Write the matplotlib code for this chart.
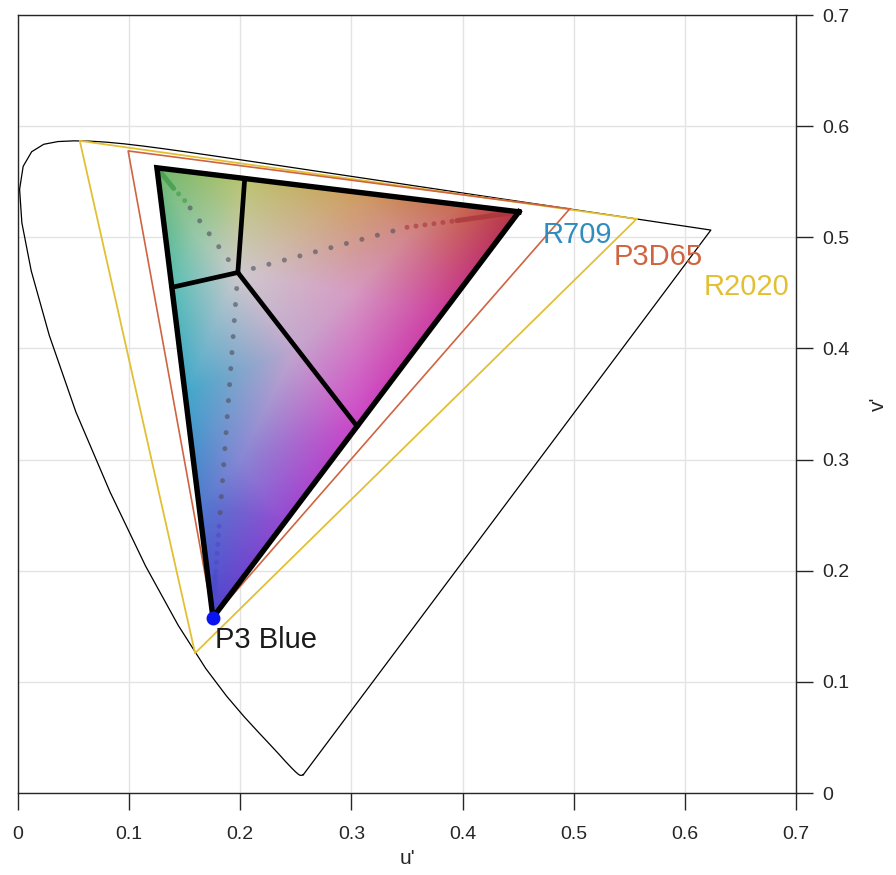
import numpy as np
import matplotlib
matplotlib.use('Agg')
import matplotlib.pyplot as plt
import matplotlib.tri as mtri
from matplotlib.patches import Polygon

plt.rcParams['font.family'] = ['Liberation Sans', 'DejaVu Sans']

# CIE 1931 2-degree spectral locus (x, y chromaticity)
wavelengths = [380, 385, 390, 395, 400, 405, 410, 415, 420, 425, 430, 435, 440, 445,
               450, 455, 460, 465, 470, 475, 480, 485, 490, 495, 500, 505, 510, 515,
               520, 525, 530, 535, 540, 545, 550, 555, 560, 565, 570, 575, 580, 585,
               590, 595, 600, 605, 610, 615, 620, 625, 630, 635, 640, 645, 650, 660,
               680, 700]
locus_x = [0.1741, 0.1740, 0.1738, 0.1736, 0.1733, 0.1730, 0.1726, 0.1721, 0.1714, 0.1703,
           0.1689, 0.1669, 0.1644, 0.1611, 0.1566, 0.1510, 0.1440, 0.1355, 0.1241, 0.1096,
           0.0913, 0.0687, 0.0454, 0.0235, 0.0082, 0.0039, 0.0139, 0.0389, 0.0743, 0.1142,
           0.1547, 0.1929, 0.2296, 0.2658, 0.3016, 0.3373, 0.3731, 0.4087, 0.4441, 0.4788,
           0.5125, 0.5448, 0.5752, 0.6029, 0.6270, 0.6482, 0.6658, 0.6801, 0.6915, 0.7006,
           0.7079, 0.7140, 0.7190, 0.7230, 0.7260, 0.7300, 0.7334, 0.7347]
locus_y = [0.0050, 0.0050, 0.0049, 0.0049, 0.0048, 0.0048, 0.0048, 0.0048, 0.0051, 0.0058,
           0.0069, 0.0086, 0.0109, 0.0138, 0.0177, 0.0227, 0.0297, 0.0399, 0.0578, 0.0868,
           0.1327, 0.2007, 0.2950, 0.4127, 0.5384, 0.6548, 0.7502, 0.8120, 0.8338, 0.8262,
           0.8059, 0.7816, 0.7543, 0.7243, 0.6923, 0.6589, 0.6245, 0.5896, 0.5547, 0.5202,
           0.4866, 0.4544, 0.4242, 0.3965, 0.3725, 0.3514, 0.3340, 0.3197, 0.3083, 0.2993,
           0.2920, 0.2859, 0.2809, 0.2770, 0.2740, 0.2700, 0.2666, 0.2653]

# Gamut primaries in u'v' (R, G, B)
r709_u = [0.4507, 0.1250, 0.1754]
r709_v = [0.5229, 0.5625, 0.1579]
p3_u = [0.4964, 0.0991, 0.1754]
p3_v = [0.5256, 0.5777, 0.1579]
r2020_u = [0.5566, 0.0556, 0.1593]
r2020_v = [0.5165, 0.5868, 0.1258]
white_u, white_v = 0.1978, 0.4683
# ends of the black split lines (top edge, left edge, right edge)
split_u = [0.204, 0.1386, 0.305]
split_v = [0.553, 0.455, 0.330]
p3_blue = (0.1754, 0.1579)
# where the dotted rays turn dense / solid near each primary (R, G, B)
dense_u = [0.350, 0.150, 0.1810]
dense_v = [0.5090, 0.5330, 0.2400]
solid_u = [0.395, 0.140, 0.1775]
solid_v = [0.5150, 0.5440, 0.1950]

tick_vals = [0, 0.1, 0.2, 0.3, 0.4, 0.5, 0.6, 0.7]
tick_labels = ['0', '0.1', '0.2', '0.3', '0.4', '0.5', '0.6', '0.7']

col_709 = '#2F8CBF'
col_p3 = '#CF6440'
col_2020 = '#E2C035'
ray_cols = ['#A8343A', '#3F9A48', '#4A4ACB']

# shading anchors for the colour fill of the R709 triangle (style only)
shade_anchors = [
    (0.1250, 0.5625, (112, 184, 108)),
    (0.4507, 0.5229, (182, 50, 68)),
    (0.1754, 0.1579, (80, 66, 205)),
    (0.1978, 0.4683, (206, 202, 205)),
    (0.2040, 0.5530, (188, 196, 112)),
    (0.3000, 0.5410, (206, 160, 96)),
    (0.4000, 0.5290, (200, 105, 80)),
    (0.1386, 0.4550, (88, 190, 182)),
    (0.1500, 0.3600, (62, 168, 202)),
    (0.1620, 0.2600, (78, 122, 206)),
    (0.3050, 0.3300, (205, 70, 200)),
    (0.3800, 0.4300, (205, 62, 160)),
    (0.2400, 0.2440, (150, 72, 210)),
    (0.3000, 0.4500, (214, 155, 195)),
    (0.2000, 0.3000, (135, 135, 212)),
    (0.3500, 0.5000, (210, 135, 140)),
    (0.2500, 0.4000, (196, 165, 206)),
    (0.1600, 0.5000, (150, 200, 170)),
]

fig = plt.figure(figsize=(8.96, 8.75), dpi=100)
ax = fig.add_axes([18/896, 82/875, 778/896, 778/875])

lx = np.array(locus_x); ly = np.array(locus_y)
den = -2*lx + 12*ly + 3
loc_u = 4*lx/den
loc_v = 9*ly/den
ax.plot(np.append(loc_u, loc_u[0]), np.append(loc_v, loc_v[0]), color='black', lw=0.9, zorder=3)

# colour fill of the R709 triangle
au = np.array([a[0] for a in shade_anchors])
av = np.array([a[1] for a in shade_anchors])
ac = np.array([a[2] for a in shade_anchors]) / 255.0
triang = mtri.Triangulation(au, av)
gu, gv = np.meshgrid(np.linspace(0.10, 0.48, 500), np.linspace(0.13, 0.59, 600))
chans = []
for k in range(3):
    interp = mtri.LinearTriInterpolator(triang, ac[:, k])
    chans.append(np.ma.filled(interp(gu, gv), 1.0))
img = np.clip(np.dstack(chans), 0, 1)
tri = Polygon(np.column_stack([r709_u, r709_v]), closed=True, facecolor='none', edgecolor='none')
ax.add_patch(tri)
im = ax.imshow(img, extent=[0.10, 0.48, 0.13, 0.59], origin='lower', interpolation='bilinear', zorder=2)
im.set_clip_path(tri)

# gamut triangles
ax.plot(r2020_u + [r2020_u[0]], r2020_v + [r2020_v[0]], color=col_2020, lw=1.3, zorder=4)
ax.plot(p3_u + [p3_u[0]], p3_v + [p3_v[0]], color=col_p3, lw=1.2, zorder=4)
ax.plot(r709_u + [r709_u[0]], r709_v + [r709_v[0]], color=col_709, lw=1.2, zorder=4)

# dotted rays from white point to primaries
for k, (pu, pv) in enumerate(zip(r709_u, r709_v)):
    ax.plot([white_u, dense_u[k]], [white_v, dense_v[k]], color=(0.3, 0.3, 0.36), alpha=0.6,
            lw=3.6, linestyle=(0, (0.01, 3.2)), dash_capstyle='round', zorder=5)
    ax.plot([dense_u[k], solid_u[k]], [dense_v[k], solid_v[k]], color=ray_cols[k], alpha=0.6,
            lw=3.6, linestyle=(0, (0.01, 1.8)), dash_capstyle='round', zorder=5)
    ax.plot([solid_u[k], pu], [solid_v[k], pv], color=ray_cols[k], alpha=0.75,
            lw=3.6, solid_capstyle='round', zorder=5)

# black outlines
ax.plot(r709_u + [r709_u[0]], r709_v + [r709_v[0]], color='black', lw=3.9,
        solid_joinstyle='miter', zorder=6)
for su, sv in zip(split_u, split_v):
    ax.plot([white_u, su], [white_v, sv], color='black', lw=3.4, zorder=6)

ax.plot([p3_blue[0]], [p3_blue[1]], 'o', color='#0A14F0', markersize=9, zorder=7)
ax.text(0.177, 0.138, 'P3 Blue', fontsize=21, color='#1A1A1A', va='center', ha='left', zorder=8)
ax.text(0.472, 0.502, 'R709', fontsize=21, color=col_709, va='center', ha='left', zorder=8)
ax.text(0.536, 0.482, 'P3D65', fontsize=21, color=col_p3, va='center', ha='left', zorder=8)
ax.text(0.617, 0.455, 'R2020', fontsize=21, color=col_2020, va='center', ha='left', zorder=8)

ax.set_xlim(0, 0.7)
ax.set_ylim(0, 0.7)
ax.set_aspect('equal')
ax.set_xticks(tick_vals)
ax.set_xticklabels(tick_labels)
ax.set_yticks(tick_vals)
ax.set_yticklabels(tick_labels)
ax.yaxis.tick_right()
ax.yaxis.set_label_position('right')
ax.tick_params(direction='out', length=12, width=1.0, labelsize=14, colors='#262626', pad=7)
ax.tick_params(axis='x', pad=12)
ax.grid(True, color='#E3E3E3', lw=1.0, zorder=0)
ax.set_axisbelow(True)
for s in ax.spines.values():
    s.set_color('#262626')
    s.set_linewidth(1.0)
ax.set_xlabel("u'", fontsize=15, color='#262626', labelpad=4)
ax.set_ylabel("v'", fontsize=15, color='#262626', labelpad=14)

fig.savefig('out.png', dpi=100)
